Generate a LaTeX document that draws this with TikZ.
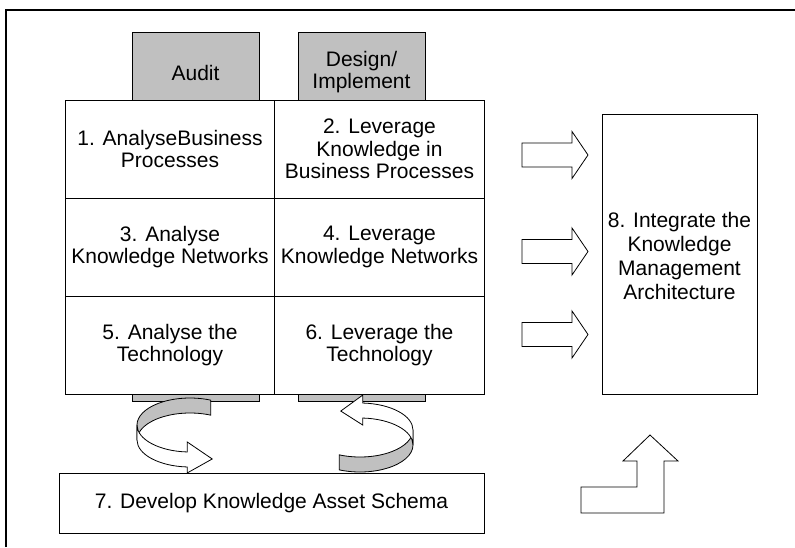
\documentclass[tikz,border=0pt]{standalone}
\usepackage{fontspec}
\setmainfont{Liberation Sans}
\usetikzlibrary{calc}

\definecolor{tabgray}{RGB}{192,192,192}

% block arrow pointing right, centred on height #1
\newcommand{\rightblock}[1]{%
  \draw[blockshape] (522,#1-12) -- (572,#1-12) -- (572,#1-23.5) -- (588,#1)
    -- (572,#1+23.5) -- (572,#1+12) -- (522,#1+12) -- cycle;}

\begin{document}
\begin{tikzpicture}[x=1pt,y=-1pt,
    every node/.style={font=\fontsize{21}{22.5}\selectfont, align=center, inner sep=0pt},
    cell/.style={draw, fill=white, line width=0.8pt, minimum width=210, minimum height=98},
    tabcol/.style={draw, fill=tabgray, line width=0.8pt},
    box/.style={draw, fill=white, line width=0.8pt},
    blockshape/.style={draw, fill=white, line width=0.8pt, line join=miter},
    ribbonback/.style={draw, fill=tabgray, line width=0.8pt},
    ribbonfront/.style={draw, fill=white, line width=0.8pt}]
        \useasboundingbox (0,0) rectangle (795,547);

        % Outer frame (open to the right and bottom)
        \draw[line width=1.2pt] (6,547) -- (6,10) -- (795,10);

        % Grey columns behind the grid
        \draw[tabcol] (132,32) rectangle (259,401);
        \draw[tabcol] (298,32) rectangle (425,401);
        \node (audit) at (195.5,73) {Audit};
        \node (design) at (361.5,72) {Design/\\Implement};

        % The six cells of the grid
        \node[cell] (c1) at (170,149) {1. AnalyseBusiness\\Processes};
        \node[cell] (c2) at (379.5,149) {2. Leverage\\Knowledge in\\Business Processes};
        \node[cell] (c3) at (170,247) {3. Analyse\\Knowledge Networks};
        \node[cell] (c4) at (379.5,247) {4. Leverage\\Knowledge Networks};
        \node[cell] (c5) at (170,345) {5. Analyse the\\Technology};
        \node[cell] (c6) at (379.5,345) {6. Leverage the\\Technology};

        % Schema box
        \node[box, minimum width=425, minimum height=60] (schema) at (271.5,503)
            {7. Develop Knowledge Asset Schema};

        % Architecture box
        \node[box, minimum width=155, minimum height=280] (arch) at (679.5,254) {};
        \node[font=\fontsize{21}{24}\selectfont] (archtext) at (679.5,256)
            {8. Integrate the\\Knowledge\\Management\\Architecture};

        % Arrows into the architecture
        \rightblock{155}
        \rightblock{251.5}
        \rightblock{334.5}

        % Bent arrow under the architecture box
        \draw[blockshape] (581,513) -- (581,487) -- (637,487) -- (637,461) -- (623,461)
            -- (650,435) -- (678,461) -- (664,461) -- (664,513) -- cycle;

        % Left ribbon: back part, then front part with head
        \draw[ribbonback] ($(190,425)+(-67:53 and 27)$)
            arc[start angle=-67, end angle=-180, x radius=53, y radius=27]
            -- ++(0,15) arc[start angle=180, end angle=293, x radius=53, y radius=27] -- cycle;
        \draw[ribbonfront] (137,425)
            arc[start angle=180, end angle=93, x radius=53, y radius=27]
            -- ++(0,-10) -- ++(25,17) -- ++(-25,14) -- ++(0,-6)
            arc[start angle=93, end angle=180, x radius=53, y radius=27] -- cycle;

        % Right ribbon: front part, then back part with head
        \draw[ribbonback] ($(360,430)+(113:53 and 27)$)
            arc[start angle=113, end angle=0, x radius=53, y radius=27]
            -- ++(0,15) arc[start angle=0, end angle=113, x radius=53, y radius=27] -- cycle;
        \draw[ribbonfront] (413,430)
            arc[start angle=0, end angle=-87, x radius=53, y radius=27]
            -- ++(0,-8) -- ++(-22,16) -- ++(22,14) -- ++(0,-7)
            arc[start angle=-87, end angle=0, x radius=53, y radius=27] -- cycle;
\end{tikzpicture}
\end{document}
